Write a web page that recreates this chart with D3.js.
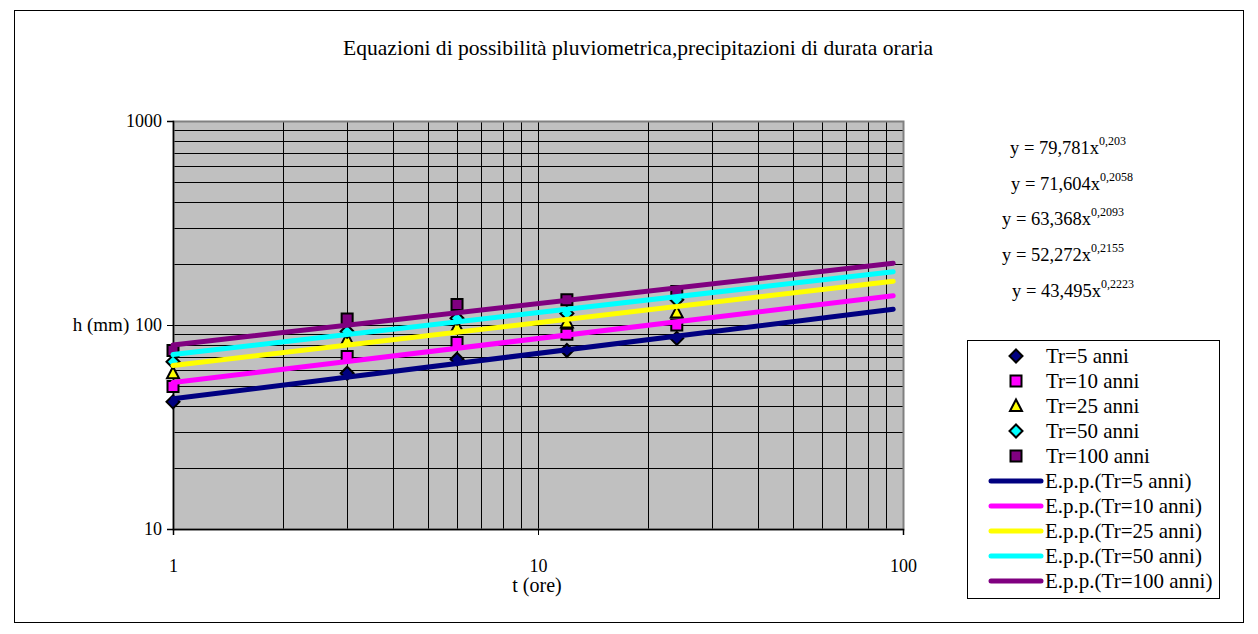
<!DOCTYPE html>
<html>
<head>
<meta charset="utf-8">
<script src="https://cdn.jsdelivr.net/npm/d3@7"></script>
<style>
  html, body { margin: 0; padding: 0; background: #fff; }
  svg { display: block; }
  svg text { font-family: "Liberation Serif", "Times New Roman", Times, "DejaVu Serif", serif; }
</style>
</head>
<body>
<svg id="chart" width="1258" height="634"></svg>
<script>
// ---- data ----
const title = "Equazioni di possibilità pluviometrica,precipitazioni di durata oraria";
const xLabel = "t (ore)";
const yLabel = "h (mm)";
const durations = [1, 3, 6, 12, 24];
const seriesNames = ["Tr=5 anni", "Tr=10 anni", "Tr=25 anni", "Tr=50 anni", "Tr=100 anni"];
const trendNames = ["E.p.p.(Tr=5 anni)", "E.p.p.(Tr=10 anni)", "E.p.p.(Tr=25 anni)", "E.p.p.(Tr=50 anni)", "E.p.p.(Tr=100 anni)"];
const hTr5   = [42, 58, 68, 75, 86];
const hTr10  = [50, 70, 82, 90, 100];
const hTr25  = [58, 85, 98, 103, 115];
const hTr50  = [66, 93, 108, 114, 133];
const hTr100 = [75, 107, 126, 133, 146];
const coeffA = [43.495, 52.272, 63.368, 71.604, 79.781];
const coeffN = [0.2223, 0.2155, 0.2093, 0.2058, 0.203];
const coeffAText = ["43,495", "52,272", "63,368", "71,604", "79,781"];
const coeffNText = ["0,2223", "0,2155", "0,2093", "0,2058", "0,203"];
const trendRange = [1, 94];
const xTicks = [1, 10, 100];
const yTicks = [10, 100, 1000];
const markerFill = ["#000080", "#FF00FF", "#FFFF00", "#00FFFF", "#800080"];
const lineColor  = ["#000080", "#FF00FF", "#FFFF00", "#00FFFF", "#800080"];
const markerShape = ["diamond", "square", "triangle", "diamond", "square"];
const seriesValues = [hTr5, hTr10, hTr25, hTr50, hTr100];

// ---- layout ----
const svg = d3.select("#chart");
const plot = { left: 173, right: 903, top: 121, bottom: 529 };

svg.append("rect").attr("x", 14.5).attr("y", 10.5).attr("width", 1229).attr("height", 612)
  .attr("fill", "#fff").attr("stroke", "#000").attr("stroke-width", 1);

const x = d3.scaleLog().domain([1, 100]).range([plot.left, plot.right]);
const y = d3.scaleLog().domain([10, 1000]).range([plot.bottom, plot.top]);

svg.append("rect").attr("x", plot.left).attr("y", plot.top)
  .attr("width", plot.right - plot.left).attr("height", plot.bottom - plot.top)
  .attr("fill", "#C0C0C0");

const xGrid = [];
for (let d = 1; d < 100; d *= 10) for (let k = 1; k <= 9; k++) xGrid.push(d * k);
const yGrid = [];
for (let d = 10; d < 1000; d *= 10) for (let k = 1; k <= 9; k++) yGrid.push(d * k);

const g = svg.append("g");
g.selectAll(".vg").data(xGrid.filter(v => v > 1 && v < 100)).join("line")
  .attr("x1", d => Math.round(x(d)) + 0.5).attr("x2", d => Math.round(x(d)) + 0.5)
  .attr("y1", plot.top).attr("y2", plot.bottom)
  .attr("stroke", "#000").attr("stroke-width", 1);
g.selectAll(".hg").data(yGrid.filter(v => v > 10 && v < 1000)).join("line")
  .attr("y1", d => Math.round(y(d)) + 0.5).attr("y2", d => Math.round(y(d)) + 0.5)
  .attr("x1", plot.left).attr("x2", plot.right)
  .attr("stroke", "#000").attr("stroke-width", 1);

svg.append("rect").attr("x", plot.left + 0.5).attr("y", plot.top + 0.5)
  .attr("width", plot.right - plot.left).attr("height", plot.bottom - plot.top)
  .attr("fill", "none").attr("stroke", "#808080").attr("stroke-width", 2);

const xAxis = d3.axisBottom(x).tickValues(xTicks).tickFormat(d3.format("d")).tickSize(6).tickPadding(24);
const yAxis = d3.axisLeft(y).tickValues(yTicks).tickFormat(d3.format("d")).tickSize(6).tickPadding(5);
const gx = svg.append("g").attr("transform", `translate(0,${plot.bottom})`).call(xAxis);
const gy = svg.append("g").attr("transform", `translate(${plot.left},0)`).call(yAxis);
[gx, gy].forEach(a => {
  a.attr("font-family", null).attr("font-size", null);
  a.select(".domain").attr("stroke", "#000").attr("stroke-width", 1.5);
  a.selectAll(".tick line").attr("stroke", "#000");
  a.selectAll(".tick text").attr("font-size", 18).attr("fill", "#000");
});

function markerPath(shape) {
  if (shape === "diamond") return "M0,-6.5L6.5,0L0,6.5L-6.5,0Z";
  if (shape === "square") return "M-5.5,-5.5L5.5,-5.5L5.5,5.5L-5.5,5.5Z";
  return "M0,-6.5L6,5L-6,5Z";
}
seriesValues.forEach((vals, i) => {
  svg.append("g").selectAll("path").data(vals).join("path")
    .attr("d", markerPath(markerShape[i]))
    .attr("transform", (d, j) => `translate(${x(durations[j])},${y(d)})`)
    .attr("fill", markerFill[i]).attr("stroke", "#000").attr("stroke-width", 2);
});

const line = d3.line().x(d => x(d[0])).y(d => y(d[1]));
coeffA.forEach((a, i) => {
  const pts = trendRange.map(t => [t, a * Math.pow(t, coeffN[i])]);
  svg.append("path").datum(pts).attr("d", line)
    .attr("fill", "none").attr("stroke", lineColor[i]).attr("stroke-width", 5)
    .attr("stroke-linecap", "round");
});

svg.append("text").attr("x", 638).attr("y", 55).attr("text-anchor", "middle")
  .attr("font-size", 21).attr("textLength", 590).attr("lengthAdjust", "spacingAndGlyphs").text(title);
svg.append("text").attr("x", 537).attr("y", 592).attr("text-anchor", "middle")
  .attr("font-size", 20).text(xLabel);
svg.append("text").attr("x", 101).attr("y", 331).attr("text-anchor", "middle")
  .attr("font-size", 19).text(yLabel);

// equations (top to bottom: Tr=100 ... Tr=5)
const eqY = [154, 190, 225, 261, 297];
const eqX = [1010, 1011, 1002, 1002, 1012];
[4, 3, 2, 1, 0].forEach((si, k) => {
  const t = svg.append("text").attr("x", eqX[k]).attr("y", eqY[k]).attr("font-size", 18.5);
  t.append("tspan").text(`y = ${coeffAText[si]}x`);
  t.append("tspan").attr("dy", -9).attr("font-size", 12).text(coeffNText[si]);
});

const lg = svg.append("g");
lg.append("rect").attr("x", 967.5).attr("y", 340.5).attr("width", 252).attr("height", 258)
  .attr("fill", "#fff").attr("stroke", "#000").attr("stroke-width", 1);
const rowY = i => 356 + i * 25;
seriesNames.forEach((name, i) => {
  lg.append("path").attr("d", markerPath(markerShape[i]))
    .attr("transform", `translate(1016,${rowY(i)})`)
    .attr("fill", markerFill[i]).attr("stroke", "#000").attr("stroke-width", 2);
  lg.append("text").attr("x", 1046).attr("y", rowY(i) + 7).attr("font-size", 21).text(name);
});
trendNames.forEach((name, j) => {
  const i = j + 5;
  lg.append("line").attr("x1", 991).attr("x2", 1041).attr("y1", rowY(i)).attr("y2", rowY(i))
    .attr("stroke", lineColor[j]).attr("stroke-width", 5).attr("stroke-linecap", "round");
  lg.append("text").attr("x", 1045).attr("y", rowY(i) + 7).attr("font-size", 21).text(name);
});
</script>
</body>
</html>
